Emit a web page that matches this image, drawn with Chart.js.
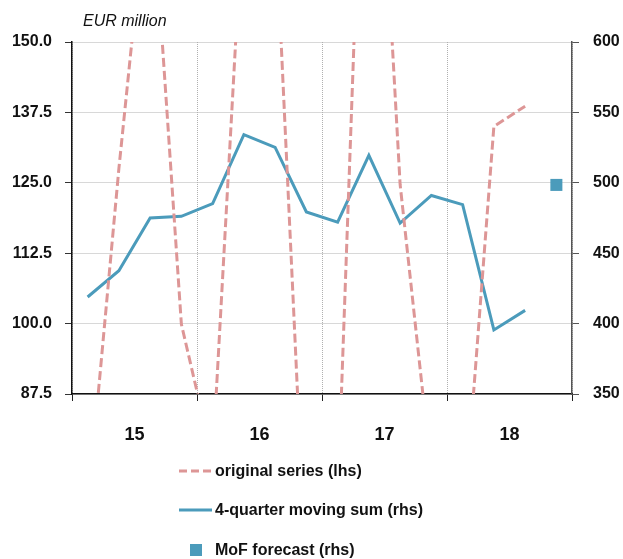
<!DOCTYPE html>
<html>
<head>
<meta charset="utf-8">
<script src="https://cdn.jsdelivr.net/npm/chart.js@4.4.1/dist/chart.umd.min.js"></script>
<style>
  html, body { margin: 0; padding: 0; background: #fff; }
  #wrap { position: relative; width: 623px; height: 559px; }
</style>
</head>
<body>
<div id="wrap"><canvas id="chart"></canvas></div>
<script>
// quarters 2015Q1 .. 2018Q4
const quarters = ['15Q1','15Q2','15Q3','15Q4','16Q1','16Q2','16Q3','16Q4',
                  '17Q1','17Q2','17Q3','17Q4','18Q1','18Q2','18Q3','18Q4'];
const yearLabels = ['15', '16', '17', '18'];

// original series, lhs (EUR million)
const originalSeries = [67.0, 127.5, 181.8, 99.9, 76.0, 176.5, 172.8, 54.0,
                        68.7, 224.0, 124.7, 73.6, 62.2, 135.0, 138.6];
// 4-quarter moving sum, rhs
const movingSum = [418.9, 437.6, 475.0, 476.2, 485.2, 534.2, 525.2, 479.3,
                   472.0, 519.5, 471.4, 491.0, 484.5, 395.5, 409.4];
// MoF forecast, rhs
const forecastQuarter = '18Q4';
const forecastValue = 498.5;

const lhsTicks = { min: 87.5, max: 150, step: 12.5 };
const rhsTicks = { min: 350, max: 600, step: 50 };

const PINK = '#dd9696';
const BLUE = '#4b9bbb';
const FONT = '"Liberation Sans", Arial, sans-serif';

function toPoints(values) {
    return values.map((v, i) => ({ x: i + 0.5, y: v }));
}

const extraText = {
    id: 'extraText',
    afterDraw(chart) {
        const ctx = chart.ctx;
        ctx.save();
        ctx.fillStyle = '#111';
        ctx.textBaseline = 'middle';
        ctx.textAlign = 'left';
        ctx.font = 'italic 16px ' + FONT;
        ctx.fillText('EUR million', 83, 22);

        // legend, stacked
        ctx.font = 'bold 16px ' + FONT;
        const rows = [
            { label: 'original series (lhs)', kind: 'dash', y: 471 },
            { label: '4-quarter moving sum (rhs)', kind: 'line', y: 510 },
            { label: 'MoF forecast (rhs)', kind: 'box', y: 550 }
        ];
        rows.forEach(r => {
            if (r.kind === 'box') {
                ctx.fillStyle = BLUE;
                ctx.fillRect(190, r.y - 6, 12, 12);
            } else {
                ctx.beginPath();
                ctx.lineWidth = 3;
                ctx.strokeStyle = r.kind === 'dash' ? PINK : BLUE;
                ctx.setLineDash(r.kind === 'dash' ? [8, 4] : []);
                ctx.moveTo(179, r.y);
                ctx.lineTo(212, r.y);
                ctx.stroke();
                ctx.setLineDash([]);
            }
            ctx.fillStyle = '#111';
            ctx.fillText(r.label, 215, r.y + 1);
        });
        ctx.restore();
    }
};

new Chart(document.getElementById('chart'), {
    type: 'line',
    data: {
        datasets: [{
            label: 'original series (lhs)',
            data: toPoints(originalSeries),
            yAxisID: 'yL',
            borderColor: PINK,
            borderWidth: 3,
            borderDash: [9, 4],
            pointRadius: 0,
            tension: 0
        }, {
            label: '4-quarter moving sum (rhs)',
            data: toPoints(movingSum),
            yAxisID: 'yR',
            borderColor: BLUE,
            borderWidth: 3,
            pointRadius: 0,
            tension: 0
        }, {
            label: 'MoF forecast (rhs)',
            data: [{ x: quarters.indexOf(forecastQuarter) + 0.5, y: forecastValue }],
            yAxisID: 'yR',
            showLine: false,
            pointStyle: 'rect',
            pointRadius: 8.5,
            pointBorderWidth: 0,
            backgroundColor: BLUE,
            borderColor: BLUE
        }]
    },
    options: {
        responsive: true,
        maintainAspectRatio: false,
        animation: false,
        layout: { padding: { top: 42, left: 0, right: 0, bottom: 0 } },
        plugins: {
            legend: { display: false },
            tooltip: { enabled: false }
        },
        scales: {
            x: {
                type: 'linear',
                min: 0,
                max: quarters.length,
                afterFit(scale) { scale.height = 165; },
                afterBuildTicks(scale) {
                    const t = [];
                    for (let v = 0; v <= quarters.length; v += 2) t.push({ value: v });
                    scale.ticks = t;
                },
                ticks: {
                    autoSkip: false,
                    maxRotation: 0,
                    padding: 23,
                    color: '#111',
                    font: { family: FONT, size: 18, weight: 'bold' },
                    callback: v => (v % 4 === 2 ? yearLabels[(v - 2) / 4] : '')
                },
                grid: {
                    color: c => (c.tick && c.tick.value % 4 === 0 ? '#b0b0b0' : 'rgba(0,0,0,0)'),
                    tickColor: c => (c.tick && c.tick.value % 4 === 0 ? '#222' : 'rgba(0,0,0,0)'),
                    tickLength: 7,
                    lineWidth: 1
                },
                border: { color: '#111', width: 1.5, dash: [1, 1] }
            },
            yL: {
                position: 'left',
                min: lhsTicks.min,
                max: lhsTicks.max,
                afterFit(scale) { scale.width = 72; },
                ticks: {
                    stepSize: lhsTicks.step,
                    padding: 13,
                    color: '#111',
                    font: { family: FONT, size: 16, weight: 'bold' },
                    callback: v => v.toFixed(1)
                },
                grid: { color: '#b0b0b0', tickColor: '#333', tickLength: 7 },
                border: { color: '#111', width: 1.5, dash: [1, 1] }
            },
            yR: {
                position: 'right',
                min: rhsTicks.min,
                max: rhsTicks.max,
                afterFit(scale) { scale.width = 51; },
                ticks: {
                    stepSize: rhsTicks.step,
                    padding: 14,
                    color: '#111',
                    font: { family: FONT, size: 16, weight: 'bold' },
                    callback: v => String(v)
                },
                grid: { drawOnChartArea: false, tickColor: '#555', tickLength: 7 },
                border: { color: '#555', width: 1.5 }
            }
        }
    },
    plugins: [extraText]
});
</script>
</body>
</html>
